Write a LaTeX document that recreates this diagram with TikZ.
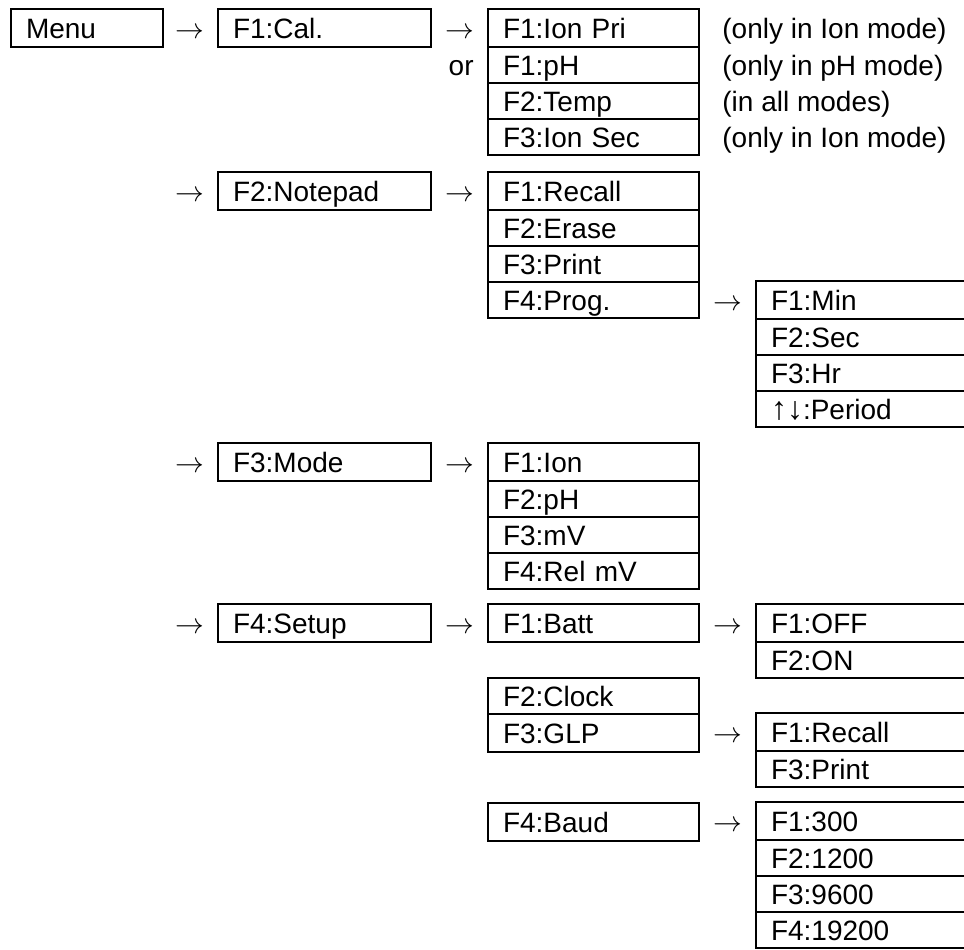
\documentclass[tikz,border=0pt]{standalone}
\usepackage{fontspec}
\setmainfont{Liberation Sans}
\usetikzlibrary{positioning}

\tikzset{
  cell/.style={draw, line width=1.2pt, outer sep=0pt, inner xsep=7.5pt, inner ysep=0pt,
    anchor=north west, align=left, text height=12pt, text depth=2pt, minimum height=18pt},
  tall/.style={minimum height=19pt},
  w0/.style={text width=61pt},
  w1/.style={text width=91.5pt},
  w2/.style={text width=90.5pt},
  w3/.style={text width=100pt},
  pointer/.style={inner sep=0pt, yshift=-2.5pt},
  remark/.style={inner sep=0pt, text height=12pt, text depth=2pt},
}

\begin{document}
\begin{tikzpicture}[x=0.5pt, y=-0.5pt, font=\fontsize{14}{16}\selectfont]
  \useasboundingbox (0,0) rectangle (964,949);

  % Main menu and first level
  \node[cell, tall, w0] (menu) at (11,9) {Menu};
  \node[cell, tall, w1] (cal) at (218,9) {F1:Cal.};
  \node[cell, tall, w1] (notepad) at (218,172) {F2:Notepad};
  \node[cell, tall, w1] (mode) at (218,443) {F3:Mode};
  \node[cell, tall, w1] (setup) at (218,604) {F4:Setup};

  % Calibration
  \node[cell, tall, w2] (calion) at (488,9) {F1:Ion Pri};
  \node[cell, w2, below=0pt of calion] (calph) {F1:pH};
  \node[cell, w2, below=0pt of calph] (caltemp) {F2:Temp};
  \node[cell, w2, below=0pt of caltemp] (calsec) {F3:Ion Sec};
  \node[remark, left=7pt of calph.west] (calor) {or};
  \node[remark, right=11.5pt of calion.east] (noteion) {(only in Ion mode)};
  \node[remark, right=11.5pt of calph.east] (noteph) {(only in pH mode)};
  \node[remark, right=11.5pt of caltemp.east] (notetemp) {(in all modes)};
  \node[remark, right=11.5pt of calsec.east] (notesec) {(only in Ion mode)};

  % Notepad
  \node[cell, tall, w2] (nprecall) at (488,172) {F1:Recall};
  \node[cell, w2, below=0pt of nprecall] (nperase) {F2:Erase};
  \node[cell, w2, below=0pt of nperase] (npprint) {F3:Print};
  \node[cell, w2, below=0pt of npprint] (npprog) {F4:Prog.};
  \node[cell, tall, w3] (pgmin) at (756,281) {F1:Min};
  \node[cell, w3, below=0pt of pgmin] (pgsec) {F2:Sec};
  \node[cell, w3, below=0pt of pgsec] (pghr) {F3:Hr};
  \node[cell, w3, below=0pt of pghr] (pgperiod) {{\fontsize{16}{16}\selectfont ↑↓}:Period};

  % Mode
  \node[cell, tall, w2] (mdion) at (488,443) {F1:Ion};
  \node[cell, w2, below=0pt of mdion] (mdph) {F2:pH};
  \node[cell, w2, below=0pt of mdph] (mdmv) {F3:mV};
  \node[cell, w2, below=0pt of mdmv] (mdrel) {F4:Rel mV};

  % Setup
  \node[cell, tall, w2] (stbatt) at (488,604) {F1:Batt};
  \node[cell, w2] (stclock) at (488,678) {F2:Clock};
  \node[cell, tall, w2, below=0pt of stclock] (stglp) {F3:GLP};
  \node[cell, tall, w2] (stbaud) at (488,803) {F4:Baud};
  \node[cell, tall, w3] (btoff) at (756,604) {F1:OFF};
  \node[cell, w3, below=0pt of btoff] (bton) {F2:ON};
  \node[cell, tall, w3] (glrecall) at (756,713) {F1:Recall};
  \node[cell, w3, below=0pt of glrecall] (glprint) {F3:Print};
  \node[cell, tall, w3] (bd300) at (756,802) {F1:300};
  \node[cell, w3, below=0pt of bd300] (bd1200) {F2:1200};
  \node[cell, w3, below=0pt of bd1200] (bd9600) {F3:9600};
  \node[cell, w3, below=0pt of bd9600] (bd19200) {F4:19200};

  % Arrows
  \node[pointer, left=6.5pt of cal.west] (tocal) {$\rightarrow$};
  \node[pointer, left=6.5pt of notepad.west] (tonotepad) {$\rightarrow$};
  \node[pointer, left=6.5pt of mode.west] (tomode) {$\rightarrow$};
  \node[pointer, left=6.5pt of setup.west] (tosetup) {$\rightarrow$};
  \node[pointer, left=6.5pt of calion.west] (tocalion) {$\rightarrow$};
  \node[pointer, left=6.5pt of nprecall.west] (tonprecall) {$\rightarrow$};
  \node[pointer, left=6.5pt of mdion.west] (tomdion) {$\rightarrow$};
  \node[pointer, left=6.5pt of stbatt.west] (tostbatt) {$\rightarrow$};
  \node[pointer, left=6.5pt of pgmin.west] (topgmin) {$\rightarrow$};
  \node[pointer, left=6.5pt of btoff.west] (tobtoff) {$\rightarrow$};
  \node[pointer, left=6.5pt of glrecall.west] (toglrecall) {$\rightarrow$};
  \node[pointer, left=6.5pt of bd300.west] (tobd300) {$\rightarrow$};
\end{tikzpicture}
\end{document}
